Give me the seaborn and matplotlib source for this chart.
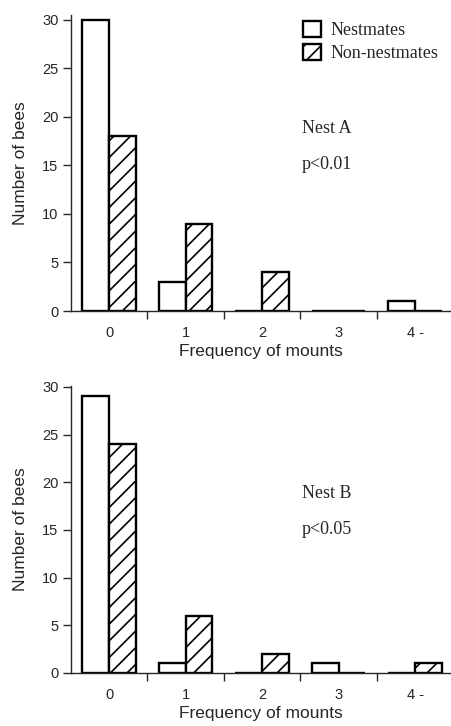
import pandas as pd
import matplotlib
matplotlib.use("Agg")
import matplotlib.pyplot as plt
from matplotlib.patches import Patch
import seaborn as sns

# values
mounts = ["0", "1", "2", "3", "4 -"]
groups = ["Nestmates", "Non-nestmates"]
nest_a_nestmates = [30, 3, 0, 0, 1]
nest_a_non = [18, 9, 4, 0, 0]
nest_b_nestmates = [29, 1, 0, 1, 0]
nest_b_non = [24, 6, 2, 0, 1]
y_ticks = [0, 5, 10, 15, 20, 25, 30]

sns.set_style("ticks")
plt.rcParams["font.family"] = ["Liberation Sans", "DejaVu Sans"]
plt.rcParams["hatch.linewidth"] = 1.2


def long_df(nestmates, non):
    return pd.DataFrame({
        "mounts": mounts * 2,
        "group": [groups[0]] * len(mounts) + [groups[1]] * len(mounts),
        "bees": nestmates + non,
    })


def draw(ax, df, nest, pval, ytop):
    sns.barplot(data=df, x="mounts", y="bees", hue="group", order=mounts,
                hue_order=groups, palette=["white", "white"], edgecolor="black",
                linewidth=1.7, width=0.7, errorbar=None, legend=False, ax=ax)
    for bar in ax.containers[1]:
        bar.set_hatch("//")
    ax.set_xlim(-0.5, 4.47)
    ax.set_ylim(0, ytop)
    ax.set_yticks(y_ticks)
    ax.tick_params(axis="y", length=6, width=1, pad=3, labelsize=10.5)
    ax.tick_params(axis="x", which="major", length=0, pad=11, labelsize=10.5)
    ax.set_xticks([0.5, 1.5, 2.5, 3.5], minor=True)
    ax.tick_params(axis="x", which="minor", length=6, width=1)
    sns.despine(ax=ax)
    for s in ("left", "bottom"):
        ax.spines[s].set_linewidth(1.0)
    ax.set_xlabel("Frequency of mounts", fontsize=12.5, labelpad=3)
    ax.set_ylabel("Number of bees", fontsize=12.5, labelpad=10)
    ax.text(2.52, 18.8, nest, family="Liberation Serif", fontsize=13, va="center")
    ax.text(2.52, 15.1, pval, family="Liberation Serif", fontsize=13, va="center")


fig = plt.figure(figsize=(4.51, 7.26), dpi=100)
ax1 = fig.add_axes([71 / 451, (726 - 311) / 726, 380 / 451, 296 / 726])
ax2 = fig.add_axes([71 / 451, (726 - 673) / 726, 380 / 451, 287 / 726])

draw(ax1, long_df(nest_a_nestmates, nest_a_non), "Nest A", "p<0.01", 30.5)
draw(ax2, long_df(nest_b_nestmates, nest_b_non), "Nest B", "p<0.05", 30.1)

handles = [Patch(facecolor="white", edgecolor="black", linewidth=1.7),
           Patch(facecolor="white", edgecolor="black", linewidth=1.7, hatch="//")]
fig.legend(handles, groups, loc="upper left", bbox_to_anchor=(303 / 451, 1 - 21 / 726),
           frameon=False, prop={"family": "Liberation Serif", "size": 13},
           handlelength=1.0, handleheight=1.0, handletextpad=0.5,
           labelspacing=0.25, borderpad=0, borderaxespad=0)

fig.savefig("out.png", dpi=100)
